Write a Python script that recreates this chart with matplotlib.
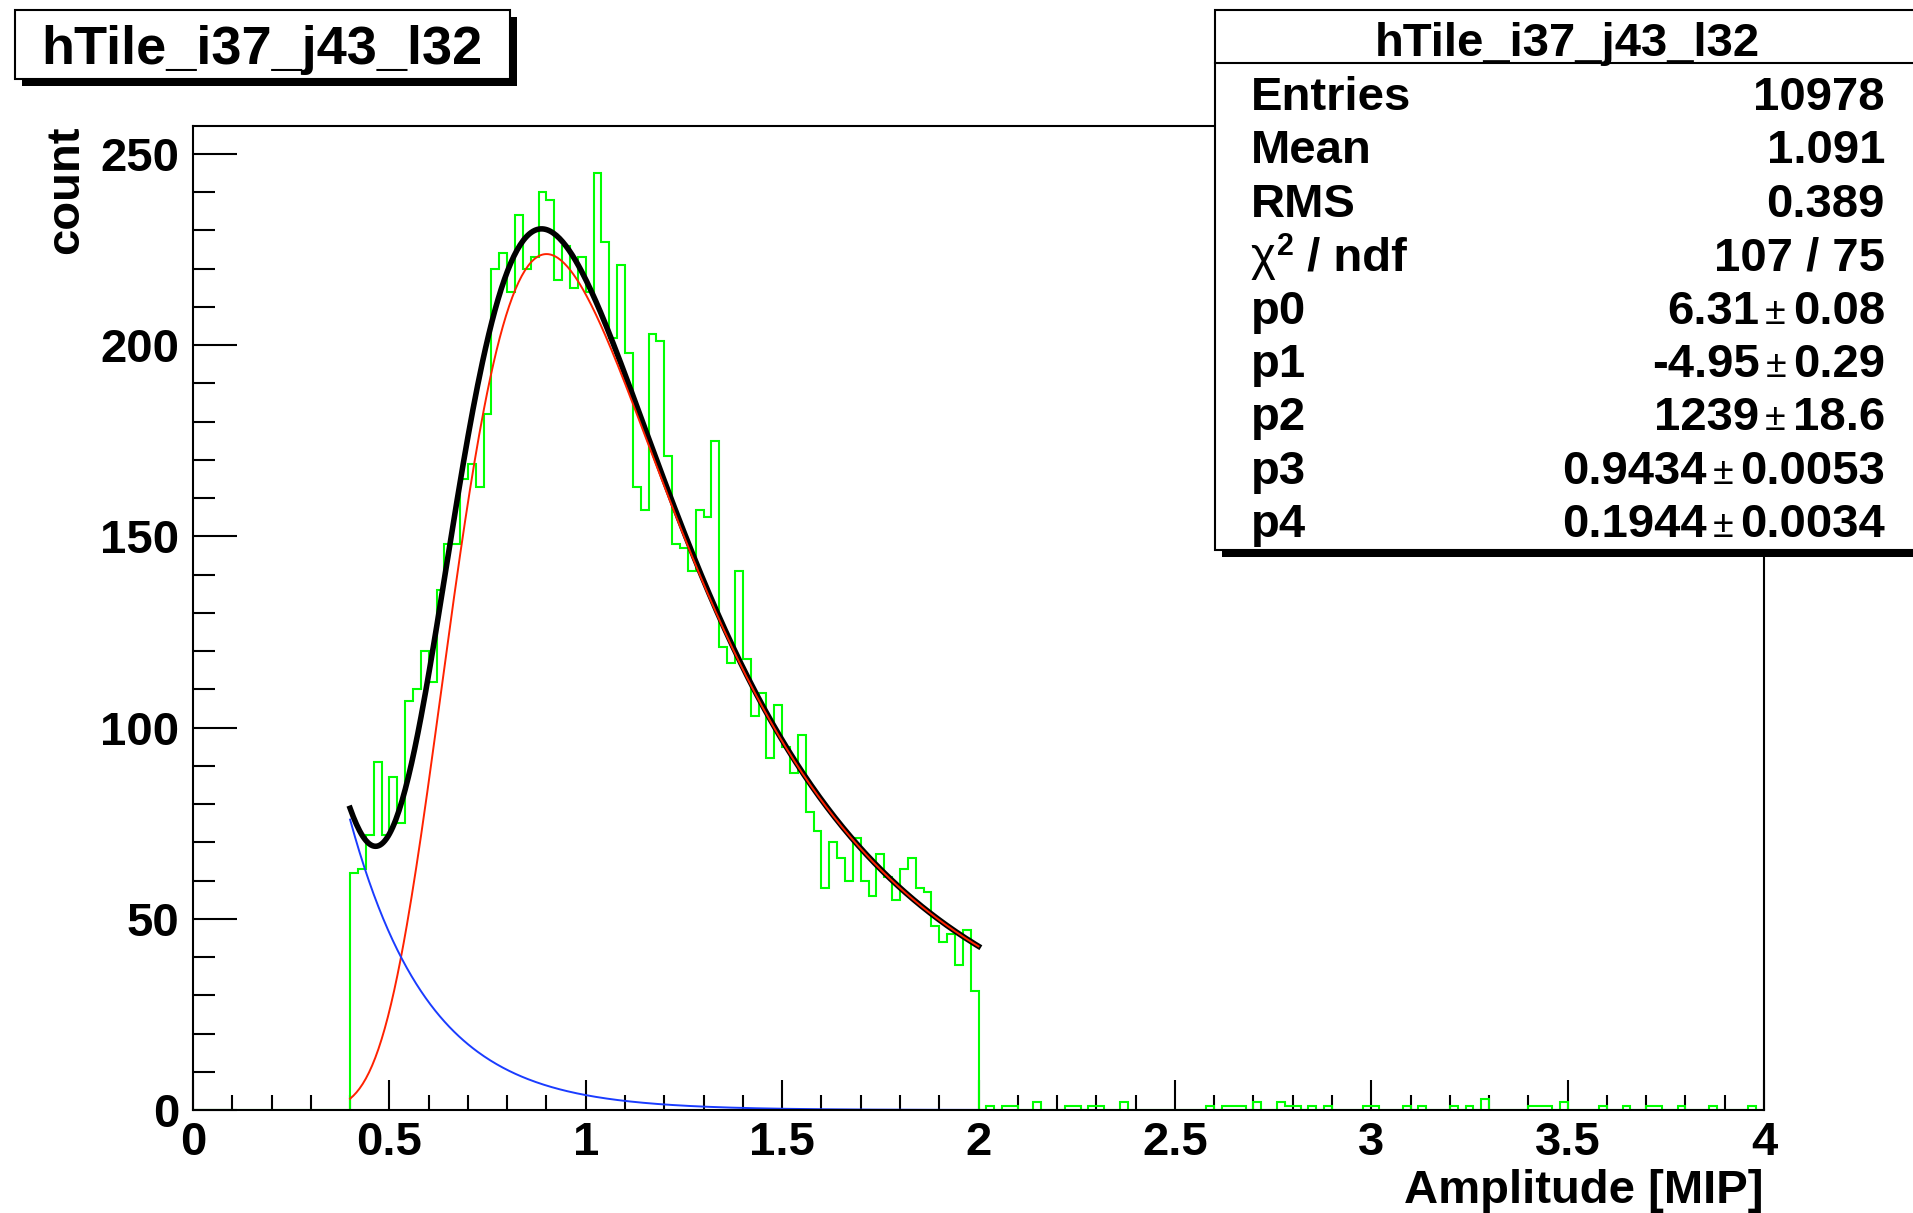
import numpy as np
import matplotlib
matplotlib.use("Agg")
import matplotlib.pyplot as plt
from matplotlib.patches import Rectangle
from matplotlib.lines import Line2D
from matplotlib.ticker import MultipleLocator, FuncFormatter

W, H = 1913, 1213

# histogram: 200 bins of 0.02 from 0 to 4
n_bins = 200
x_min, x_max = 0.0, 4.0

# bin contents from 0.40 to 1.98 (bin lower edges)
main_start = 0.40
main_counts = [62, 63, 72, 91, 72, 87, 75, 107, 110, 120,
               112, 136, 148, 148, 165, 169, 163, 182, 220, 224,
               214, 234, 220, 223, 240, 238, 217, 226, 215, 223,
               214, 245, 227, 202, 221, 198, 163, 157, 203, 201,
               171, 148, 147, 141, 157, 155, 175, 121, 117, 141,
               118, 103, 109, 92, 106, 95, 88, 98, 78, 73,
               58, 70, 66, 60, 71, 60, 56, 67, 61, 55,
               63, 66, 58, 57, 48, 44, 46, 38, 47, 31]

# sparse bins above 2 (lower edge, content)
tail_x = [2.02, 2.06, 2.08, 2.14, 2.22, 2.24, 2.28, 2.30, 2.36, 2.58,
          2.62, 2.64, 2.66, 2.70, 2.76, 2.78, 2.80, 2.84, 2.88, 2.98,
          3.00, 3.08, 3.12, 3.20, 3.24, 3.28, 3.40, 3.42, 3.44, 3.48,
          3.58, 3.64, 3.70, 3.72, 3.78, 3.86, 3.96]
tail_counts = [1, 1, 1, 2, 1, 1, 1, 1, 2, 1,
               1, 1, 1, 2, 2, 1, 1, 1, 1, 1,
               1, 1, 1, 1, 1, 3, 1, 1, 1, 2,
               1, 1, 1, 1, 1, 1, 1]

# stats box
hist_name = "hTile_i37_j43_l32"
entries = 10978
mean = 1.091
rms = 0.389
chi2, ndf = 107, 75
par_names = ["p0", "p1", "p2", "p3", "p4"]
par_values = [6.31, -4.95, 1239, 0.9434, 0.1944]
par_errors = [0.08, 0.29, 18.6, 0.0053, 0.0034]
fit_range = (0.40, 2.00)


def landau(x, mpv, sigma):
    # ROOT TMath::Landau (not normalised)
    lam = (x - mpv) / sigma
    t = np.linspace(1e-9, 60, 30001)
    tlt = t * np.log(t)
    return np.array([np.trapezoid(np.exp(-tlt - l * t) * np.sin(np.pi * t), t)
                     for l in lam]) / np.pi


def fx(px):
    return px / W


def fy(py):
    return 1 - py / H


plt.rcParams['font.family'] = ['Liberation Sans', 'DejaVu Sans']
plt.rcParams['font.weight'] = 'bold'
FS = 34

edges = np.linspace(x_min, x_max, n_bins + 1)
counts = np.zeros(n_bins)
i0 = int(round(main_start / 0.02))
counts[i0:i0 + len(main_counts)] = main_counts
for xv, c in zip(tail_x, tail_counts):
    counts[int(round(xv / 0.02))] = c

fig = plt.figure(figsize=(W / 100, H / 100), dpi=100)
ax = fig.add_axes([fx(193), fy(1110), fx(1764 - 193), (1110 - 126) / H])

ax.stairs(counts, edges, color='#00ff00', lw=1.5, zorder=2)

xf = np.linspace(fit_range[0], fit_range[1], 400)
bkg = np.exp(par_values[0] + par_values[1] * xf)
sig = par_values[2] * landau(xf, par_values[3], par_values[4])
ax.plot(xf, bkg + sig, color='black', lw=4, zorder=3)
ax.plot(xf, sig, color='#ff2200', lw=1.4, zorder=4)
ax.plot(xf, bkg, color='#1a3cff', lw=1.4, zorder=4)

ax.set_xlim(x_min, x_max)
ax.set_ylim(0, (1110 - 126) / 3.824)
ax.xaxis.set_major_locator(MultipleLocator(0.5))
ax.xaxis.set_minor_locator(MultipleLocator(0.1))
ax.yaxis.set_major_locator(MultipleLocator(50))
ax.yaxis.set_minor_locator(MultipleLocator(10))
ax.xaxis.set_major_formatter(FuncFormatter(lambda v, p: f"{v:g}"))
ax.yaxis.set_major_formatter(FuncFormatter(lambda v, p: f"{v:g}"))
ax.tick_params(which='both', direction='in', top=False, right=False, width=1.5,
               labelsize=FS)
ax.tick_params(axis='x', which='major', length=21.6, pad=8)
ax.tick_params(axis='x', which='minor', length=10.8)
ax.tick_params(axis='y', which='major', length=31.7, pad=10)
ax.tick_params(axis='y', which='minor', length=15.5)
for s in ax.spines.values():
    s.set_linewidth(1.5)
    s.set_zorder(5)

fig.text(fx(88), fy(126), "count", rotation=90, ha='right', va='top', fontsize=FS)
fig.text(fx(1764), fy(1203), "Amplitude [MIP]", ha='right', va='baseline', fontsize=FS)

# title box with shadow
sh = 7
fig.patches.append(Rectangle((fx(15 + sh), fy(79 + sh)), fx(495), 69 / H,
                             transform=fig.transFigure, facecolor='black',
                             edgecolor='none', zorder=5))
fig.patches.append(Rectangle((fx(15), fy(79)), fx(495), 69 / H,
                             transform=fig.transFigure, facecolor='white',
                             edgecolor='black', lw=1.5, zorder=6))
fig.text(fx(262), fy(64), hist_name, ha='center', va='baseline', fontsize=39, zorder=7)

# stats box with shadow
bx0, by0, bx1, by1 = 1215, 10, 1930, 550
fig.patches.append(Rectangle((fx(bx0 + sh), fy(by1 + sh)), fx(bx1 - bx0), (by1 - by0) / H,
                             transform=fig.transFigure, facecolor='black',
                             edgecolor='none', zorder=5))
fig.patches.append(Rectangle((fx(bx0), fy(by1)), fx(bx1 - bx0), (by1 - by0) / H,
                             transform=fig.transFigure, facecolor='white',
                             edgecolor='black', lw=1.5, zorder=6))
fig.lines.append(Line2D([fx(bx0), fx(bx1)], [fy(63), fy(63)], transform=fig.transFigure,
                        color='black', lw=1.5, zorder=7))
fig.text(fx(1567), fy(56), hist_name, ha='center', va='baseline', fontsize=FS, zorder=7)

r = fig.canvas.get_renderer()
x_lab, x_val = 1251, 1885
base0, step = 110, 53.4

rows = [("Entries", f"{entries}"), ("Mean", f"{mean:g}"), ("RMS", f"{rms:g}"),
        (None, f"{chi2} / {ndf}")]
for i, (lab, val) in enumerate(rows):
    yb = fy(base0 + i * step)
    if lab is None:
        # chi^2 / ndf label
        t_chi = fig.text(fx(x_lab), yb, "χ", ha='left', va='baseline', fontsize=FS,
                         weight='normal', zorder=7)
        x1 = t_chi.get_window_extent(r).x1
        t_sq = fig.text(fx(x1 + 1), yb + 15 / H, "2", ha='left', va='baseline',
                        fontsize=22, zorder=7)
        x1 = t_sq.get_window_extent(r).x1
        fig.text(fx(x1), yb, " / ndf", ha='left', va='baseline', fontsize=FS, zorder=7)
    else:
        fig.text(fx(x_lab), yb, lab, ha='left', va='baseline', fontsize=FS, zorder=7)
    fig.text(fx(x_val), yb, val, ha='right', va='baseline', fontsize=FS, zorder=7)

for j, (name, v, e) in enumerate(zip(par_names, par_values, par_errors)):
    yb = fy(base0 + (len(rows) + j) * step)
    fig.text(fx(x_lab), yb, name, ha='left', va='baseline', fontsize=FS, zorder=7)
    t_err = fig.text(fx(x_val), yb, f"{e:g}", ha='right', va='baseline', fontsize=FS, zorder=7)
    x0 = t_err.get_window_extent(r).x0
    t_pm = fig.text(fx(x0 - 7), yb, "±", ha='right', va='baseline', fontsize=27,
                    weight='normal', zorder=7)
    x0 = t_pm.get_window_extent(r).x0
    fig.text(fx(x0 - 6), yb, f"{v:g}", ha='right', va='baseline', fontsize=FS, zorder=7)

fig.savefig("out.png", dpi=100)
